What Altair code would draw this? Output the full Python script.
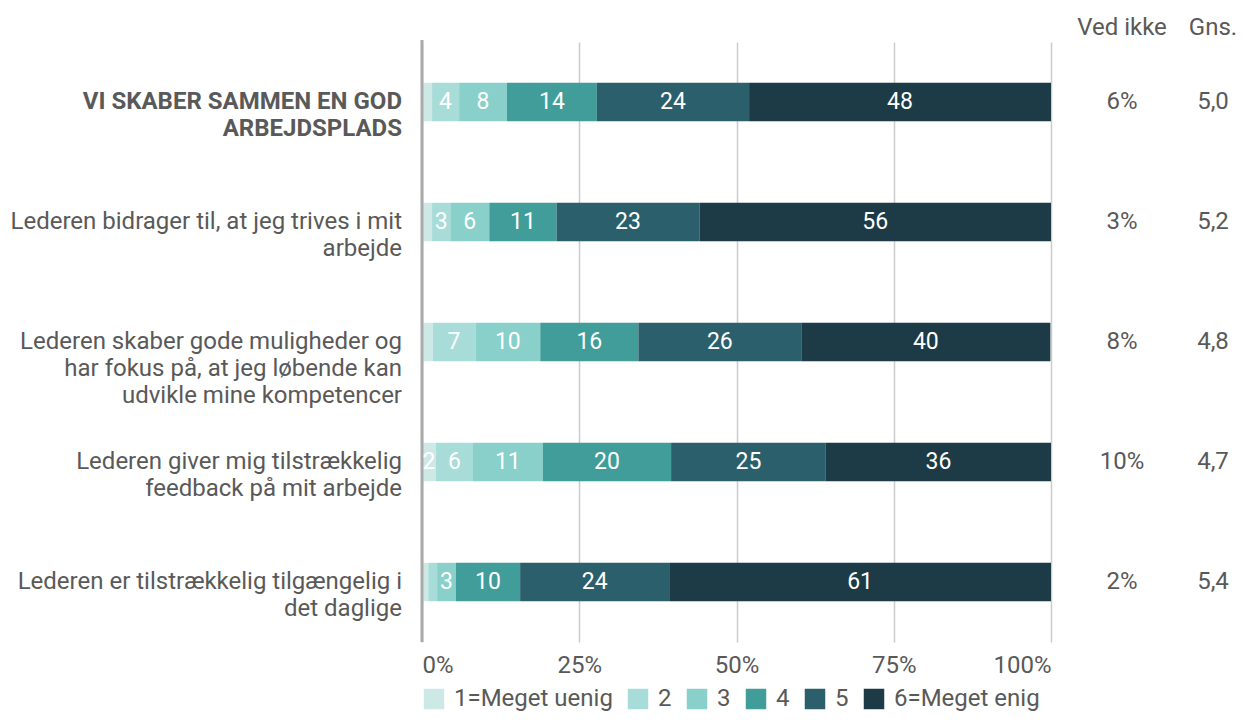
import altair as alt
import pandas as pd

categories = [
    "VI SKABER SAMMEN EN GOD|ARBEJDSPLADS",
    "Lederen bidrager til, at jeg trives i mit|arbejde",
    "Lederen skaber gode muligheder og|har fokus på, at jeg løbende kan|udvikle mine kompetencer",
    "Lederen giver mig tilstrækkelig|feedback på mit arbejde",
    "Lederen er tilstrækkelig tilgængelig i|det daglige",
]
bold = [True, False, False, False, False]
levels = ["1=Meget uenig", "2", "3", "4", "5", "6=Meget enig"]
colors = ["#cce9e6", "#a8dcd8", "#88d0c9", "#419d99", "#2b5f6b", "#1c3b46"]

lvl1 = [1.6, 1.6, 1.7, 2.2, 1.0]
lvl2 = [4.3, 2.9, 6.8, 5.9, 1.4]
lvl3 = [7.6, 6.2, 10.3, 11.1, 3.0]
lvl4 = [14.3, 10.7, 15.6, 20.4, 10.2]
lvl5 = [24.2, 22.7, 25.9, 24.6, 23.7]
lvl6 = [48.0, 55.9, 39.6, 35.8, 60.7]

ved_ikke = [6, 3, 8, 10, 2]
gns = [5.0, 5.2, 4.8, 4.7, 5.4]

TXT = "#595959"
FONT = "Roboto"
FS = 24

rows = []
all_lv = [lvl1, lvl2, lvl3, lvl4, lvl5, lvl6]
for ci, cat in enumerate(categories):
    start = 0.0
    for li, lev in enumerate(levels):
        v = all_lv[li][ci]
        rows.append({
            "cat": cat, "level": lev, "order": li, "start": start,
            "end": start + v, "mid": start + v / 2,
            "label": str(int(round(v))) if v >= 2 else "",
        })
        start += v
df = pd.DataFrame(rows)

side = pd.DataFrame({
    "cat": categories,
    "isbold": bold,
    "ved": [f"{v}%" for v in ved_ikke],
    "gns": [f"{g:.1f}".replace(".", ",") for g in gns],
})

yenc = alt.Y("cat:N", sort=categories, axis=None,
             scale=alt.Scale(paddingInner=0.68, paddingOuter=0.34))

bars = alt.Chart(df).mark_bar().encode(
    x=alt.X("start:Q", scale=alt.Scale(domain=[0, 100], nice=False),
            axis=alt.Axis(values=[0, 25, 50, 75, 100], labelExpr="datum.value + '%'",
                          title=None, domain=False, ticks=False, grid=True,
                          gridColor="#cccccc", gridWidth=1.5, labelFontSize=FS,
                          labelColor=TXT, labelFont=FONT, labelPadding=11,
                          labelFlush=True)),
    x2="end:Q",
    y=yenc,
    color=alt.Color("level:N", sort=levels,
                    scale=alt.Scale(domain=levels, range=colors),
                    legend=alt.Legend(title=None, orient="none", legendX=0, legendY=645,
                                      direction="horizontal", symbolType="square",
                                      symbolSize=420, symbolStrokeWidth=0,
                                      labelFontSize=FS, labelFont=FONT, labelColor=TXT,
                                      labelOffset=8, columnPadding=13)),
    order=alt.Order("order:Q"),
)

zero = alt.Chart(pd.DataFrame({"x": [0]})).mark_rule(color="#aaaaaa", strokeWidth=3).encode(
    x="x:Q", y=alt.value(-2), y2=alt.value(600))

seglabels = alt.Chart(df).mark_text(color="white", fontSize=23, font=FONT).encode(
    x="mid:Q", y=alt.Y("cat:N", sort=categories), text="label:N")

ybase = alt.Chart(side)
ylab_bold = ybase.transform_filter("datum.isbold").mark_text(
    align="right", baseline="middle", fontSize=FS, font=FONT, color=TXT,
    lineBreak="|", lineHeight=27, fontWeight="bold").encode(
    x=alt.value(-20), y=alt.Y("cat:N", sort=categories), text="cat:N")
ylab_norm = ybase.transform_filter("!datum.isbold").mark_text(
    align="right", baseline="middle", fontSize=FS, font=FONT, color=TXT,
    lineBreak="|", lineHeight=27).encode(
    x=alt.value(-20), y=alt.Y("cat:N", sort=categories), text="cat:N")

vedtxt = alt.Chart(side).mark_text(fontSize=FS, font=FONT, color=TXT).encode(
    x=alt.value(700), y=alt.Y("cat:N", sort=categories), text="ved:N")
gnstxt = alt.Chart(side).mark_text(fontSize=FS, font=FONT, color=TXT).encode(
    x=alt.value(791), y=alt.Y("cat:N", sort=categories), text="gns:N")

hdr = pd.DataFrame({"t": ["Ved ikke", "Gns."], "xp": [700, 791]})
headers = alt.Chart(hdr).mark_text(fontSize=FS, font=FONT, color=TXT).encode(
    x=alt.X("xp:Q", scale=None), y=alt.value(-14), text="t:N")

chart = alt.layer(bars, zero, seglabels, ylab_bold, ylab_norm, vedtxt, gnstxt, headers).properties(
    width=629, height=600,
    autosize=alt.AutoSizeParams(type="none"),
    padding={"left": 414, "top": 34, "right": 185, "bottom": 70},
).configure_view(stroke=None)

chart.save("out.html", embed_options={"renderer": "svg", "actions": False})
